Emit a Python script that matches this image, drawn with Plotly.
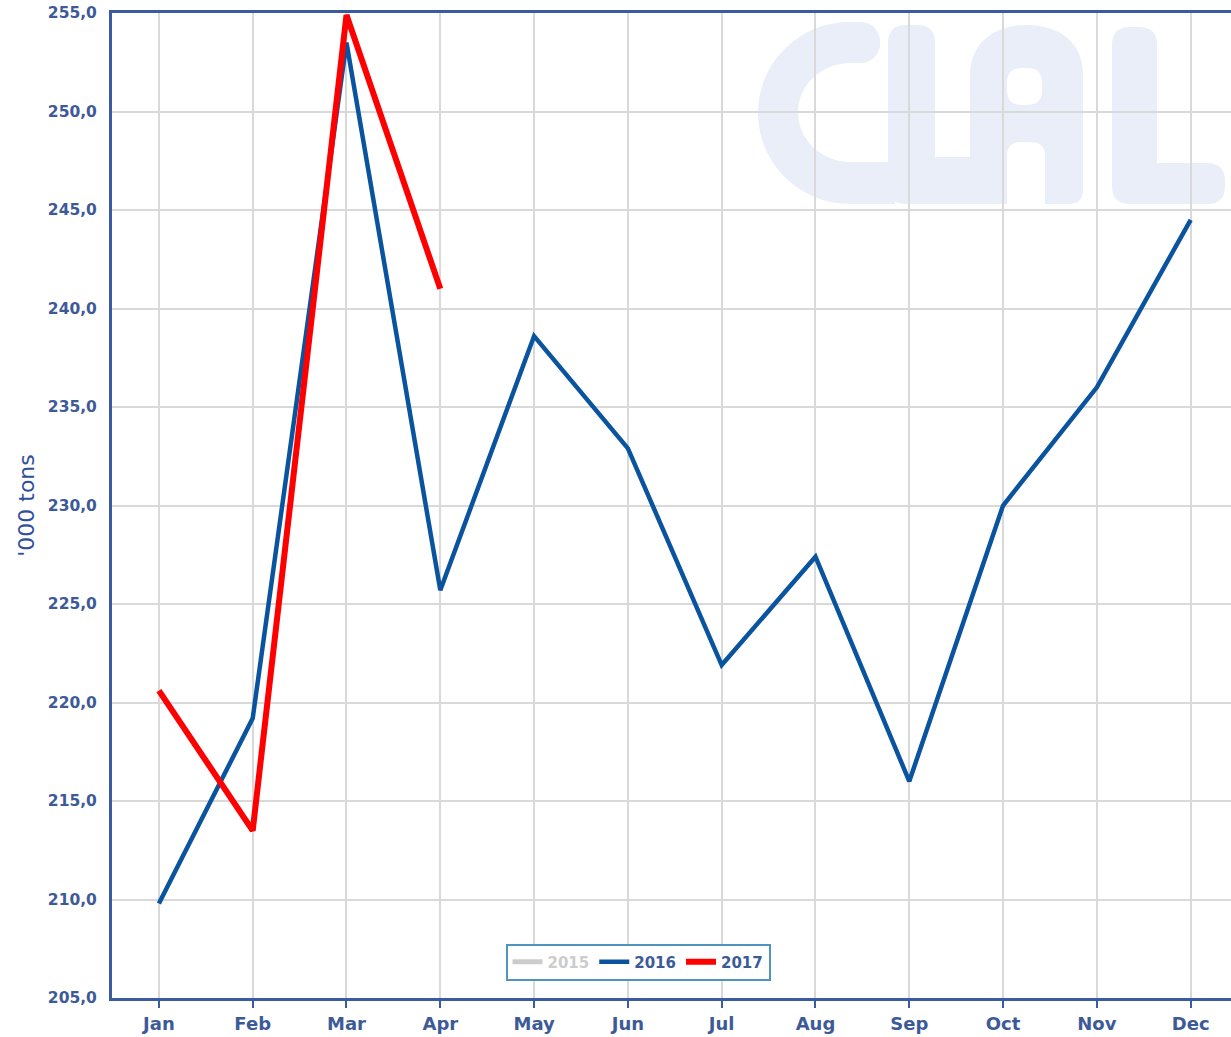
import plotly.graph_objects as go

# Monthly volumes, thousand tons
months = ["Jan", "Feb", "Mar", "Apr", "May", "Jun",
          "Jul", "Aug", "Sep", "Oct", "Nov", "Dec"]
values_2015 = [None]  # no 2015 data shown, legend entry only
values_2016 = [209.8, 219.2, 253.5, 225.7, 238.6, 232.9,
               221.9, 227.4, 216.0, 230.0, 236.0, 244.5]
values_2017 = [220.6, 213.5, 254.9, 241.0]
y_ticks = [205, 210, 215, 220, 225, 230, 235, 240, 245, 250, 255]

AXIS_BLUE = "#3a5ba0"
LABEL_BLUE = "#3d5a98"
GRID = "#d9d9d9"

fig = go.Figure()
fig.add_trace(go.Scatter(
    x=months[:len(values_2015)], y=values_2015, mode="lines",
    name="<span style='color:#cccccc'>2015</span>",
    line=dict(color="#cccccc", width=5),
))
fig.add_trace(go.Scatter(
    x=months[:len(values_2016)], y=values_2016, mode="lines", name="2016",
    line=dict(color="#0a539f", width=4.5),
))
fig.add_trace(go.Scatter(
    x=months[:len(values_2017)], y=values_2017, mode="lines", name="2017",
    line=dict(color="#ff0000", width=6),
))

# Plot-area geometry in pixels (used for the watermark outline)
W_FIG, H_FIG = 1231, 1037
L, R, T, B = 112, 1231, 13, 998
PW, PH = R - L, B - T


def pt(x, y):
    return f"{(x - L) / PW:.5f},{(B - y) / PH:.5f}"


def rrect(x0, y0, x1, y1, r):
    return (f"M{pt(x0 + r, y0)} L{pt(x1 - r, y0)} Q{pt(x1, y0)} {pt(x1, y0 + r)} "
            f"L{pt(x1, y1 - r)} Q{pt(x1, y1)} {pt(x1 - r, y1)} "
            f"L{pt(x0 + r, y1)} Q{pt(x0, y1)} {pt(x0, y1 - r)} "
            f"L{pt(x0, y0 + r)} Q{pt(x0, y0)} {pt(x0 + r, y0)} Z")


LOGO = "#e9eef9"
logo_paths = []
# C
logo_paths.append((
    f"M{pt(850, 22)} L{pt(860, 22)} C{pt(887, 22)} {pt(887, 63)} {pt(860, 63)} "
    f"L{pt(850, 63)} C{pt(822, 63)} {pt(798, 85)} {pt(798, 112)} "
    f"C{pt(798, 140)} {pt(822, 162)} {pt(850, 162)} L{pt(895, 162)} L{pt(895, 204)} "
    f"L{pt(850, 204)} C{pt(799, 204)} {pt(758, 163)} {pt(758, 113)} "
    f"C{pt(758, 63)} {pt(799, 22)} {pt(850, 22)} Z", LOGO))
# first L
logo_paths.append((rrect(888, 25, 935, 204, 18), LOGO))
logo_paths.append((rrect(900, 157, 1003, 204, 18), LOGO))
# A
logo_paths.append((
    f"M{pt(970, 204)} L{pt(970, 75)} C{pt(970, 42)} {pt(995, 25)} {pt(1027, 25)} "
    f"C{pt(1059, 25)} {pt(1083, 42)} {pt(1083, 75)} L{pt(1083, 190)} "
    f"Q{pt(1083, 204)} {pt(1069, 204)} Z", LOGO))
logo_paths.append((rrect(1007, 68, 1042, 105, 15), "white"))
logo_paths.append((rrect(1007, 142, 1045, 220, 14), "white"))
# second L
logo_paths.append((rrect(1112, 27, 1157, 204, 18), LOGO))
logo_paths.append((rrect(1120, 163, 1225, 204, 18), LOGO))

shapes = [dict(type="path", path=p, xref="paper", yref="paper",
               fillcolor=c, line=dict(width=0), layer="below")
          for p, c in logo_paths]

fig.update_layout(
    width=W_FIG, height=H_FIG,
    margin=dict(l=L, r=W_FIG - R, t=T, b=H_FIG - B, pad=0),
    paper_bgcolor="white", plot_bgcolor="white",
    separators=",.",
    font=dict(family="DejaVu Sans", color=LABEL_BLUE),
    shapes=shapes,
    showlegend=True,
    legend=dict(
        orientation="h", x=(638 - L) / PW, xanchor="center",
        y=(B - 962) / PH, yanchor="middle",
        bgcolor="white", bordercolor="#4f94bf", borderwidth=2,
        font=dict(family="DejaVu Sans", size=15, color=LABEL_BLUE, weight="bold"),
        itemwidth=30, tracegroupgap=0,
    ),
    xaxis=dict(
        type="category", categoryorder="array", categoryarray=months,
        range=[-0.5, 11.43],
        showgrid=True, gridcolor=GRID, gridwidth=2,
        showline=True, linecolor=AXIS_BLUE, linewidth=3, mirror=True,
        ticks="outside", ticklen=7, tickwidth=2, tickcolor=AXIS_BLUE,
        tickfont=dict(family="DejaVu Sans", size=18, color=LABEL_BLUE, weight="bold"),
        zeroline=False,
    ),
    yaxis=dict(
        range=[205, 255], tickvals=y_ticks, tickformat=".1f",
        showgrid=True, gridcolor=GRID, gridwidth=2,
        showline=True, linecolor=AXIS_BLUE, linewidth=3,
        ticks="", ticklabelstandoff=9,
        tickfont=dict(family="DejaVu Sans", size=15.5, color=LABEL_BLUE, weight="bold"),
        title=dict(text="'000 tons", standoff=8,
                   font=dict(family="DejaVu Sans", size=22, color="#2f4f9e")),
        zeroline=False,
    ),
)

fig.write_html("out.html")
